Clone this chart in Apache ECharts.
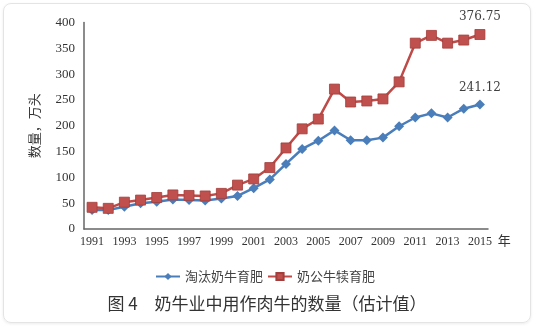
<!DOCTYPE html>
<html>
<head>
<meta charset="utf-8">
<script src="https://cdn.jsdelivr.net/npm/echarts@6/dist/echarts.min.js"></script>
<style>
  html, body { margin: 0; padding: 0; background: #fff; }
  #frame { position: absolute; left: 3px; top: 3px; width: 526px; height: 318px;
           border: 1px solid #e4e4e4; border-radius: 8px; box-shadow: 0 1px 3px rgba(0,0,0,0.08); }
  #chart { position: absolute; left: 0; top: 0; width: 534px; height: 326px; }
</style>
</head>
<body>
<div id="frame"></div>
<div id="chart"></div>
<script>
// Years on the category axis
const years = ['1991','1992','1993','1994','1995','1996','1997','1998','1999','2000',
               '2001','2002','2003','2004','2005','2006','2007','2008','2009','2010',
               '2011','2012','2013','2014','2015'];

// 淘汰奶牛育肥 (万头)
const culledCows = [37, 37, 43, 50, 53, 57, 56, 55, 59, 64,
                    79, 96, 126, 155, 171, 191, 172, 172, 177, 199,
                    216, 224, 216, 233, 241.12];

// 奶公牛犊育肥 (万头)
const bullCalves = [42, 40, 52, 56, 61, 66, 65, 64, 69, 85,
                    97, 119, 157, 194, 213, 271, 246, 248, 252, 285,
                    360, 375, 360, 366, 376.75];

const yTicks = { min: 0, max: 400, interval: 50 };

const serif = '"Liberation Serif", "Times New Roman", serif';
const cjk = '"Noto Sans CJK SC", sans-serif';

// Only the final year carries a value label
function endLabel(arr) {
  const last = arr.length - 1;
  return arr.map((v, i) => i === last
    ? { value: v, label: { show: true, position: 'top', distance: 6,
        fontFamily: '"DejaVu Serif", serif', fontSize: 12, color: '#404040',
        formatter: p => p.value.toFixed(2) } }
    : v);
}

const chart = echarts.init(document.getElementById('chart'), null, { renderer: 'canvas' });
chart.setOption({
  animation: false,
  backgroundColor: 'transparent',
  title: {
    text: '图 4　奶牛业中用作肉牛的数量（估计值）',
    left: 'center', top: 290,
    textStyle: { fontFamily: cjk, fontSize: 17, fontWeight: 'normal', color: '#333' }
  },
  legend: {
    left: 150, top: 265,
    itemWidth: 24, itemHeight: 9, itemGap: 4,
    textStyle: { fontFamily: cjk, fontSize: 13, color: '#444' },
    data: ['淘汰奶牛育肥', '奶公牛犊育肥']
  },
  grid: { left: 84, right: 46, top: 22.5, bottom: 97, containLabel: false },
  xAxis: {
    type: 'category',
    data: years,
    boundaryGap: true,
    name: '年',
    nameLocation: 'end',
    nameGap: 9,
    nameTextStyle: { fontFamily: cjk, fontSize: 13, color: '#333', verticalAlign: 'top', padding: [5, 0, 0, 0] },
    axisLine: { lineStyle: { color: '#666', width: 1.5 } },
    axisTick: { show: false },
    axisLabel: { interval: 1, margin: 7, fontFamily: serif, fontSize: 12, color: '#333' },
    splitLine: { show: false }
  },
  yAxis: {
    type: 'value',
    min: yTicks.min, max: yTicks.max, interval: yTicks.interval,
    name: '数量，万头',
    nameLocation: 'middle',
    nameRotate: 90,
    nameGap: 43,
    nameTextStyle: { fontFamily: cjk, fontSize: 13, color: '#333' },
    axisLine: { show: true, lineStyle: { color: '#666', width: 1.5 } },
    axisTick: { show: false },
    axisLabel: { margin: 9, fontFamily: serif, fontSize: 13, color: '#333' },
    splitLine: { show: false }
  },
  series: [
    {
      name: '淘汰奶牛育肥',
      type: 'line',
      data: endLabel(culledCows),
      symbol: 'diamond',
      symbolSize: 10,
      lineStyle: { color: '#4A7EBB', width: 2.5 },
      itemStyle: { color: '#4A7EBB' }
    },
    {
      name: '奶公牛犊育肥',
      type: 'line',
      data: endLabel(bullCalves),
      symbol: 'rect',
      symbolSize: 10,
      lineStyle: { color: '#BE4B48', width: 2.5 },
      itemStyle: { color: '#C0504D', borderColor: '#A23E3B', borderWidth: 0.8 }
    }
  ]
});
</script>
</body>
</html>
